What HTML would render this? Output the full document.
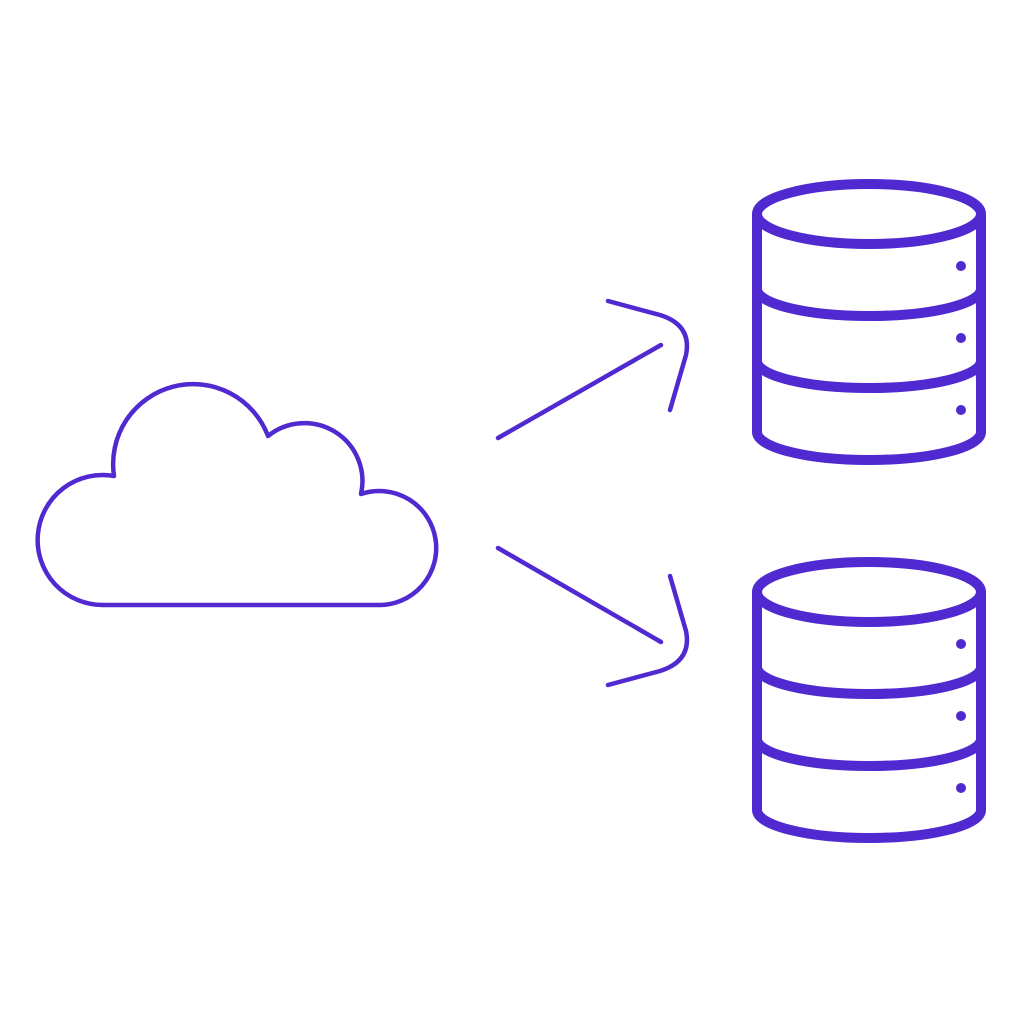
<!DOCTYPE html>
<html><head><style>html,body{margin:0;padding:0;background:#fff;}svg{display:block}</style></head>
<body>
<svg width="1024" height="1024" viewBox="0 0 1024 1024" xmlns="http://www.w3.org/2000/svg">
<g fill="none" stroke="#5029d0" stroke-linecap="round" stroke-linejoin="round">
<path stroke-width="4.5" d="M103 605 L378 605 A57 57 0 1 0 361 494 A58 58 0 0 0 268 436 A80 80 0 0 0 114 476 A65 65 0 1 0 103 605 Z"/>
<g stroke-width="4.5">
<line x1="498" y1="438" x2="661" y2="345"/>
<path d="M608 301 L660 315 Q692 325 686 355 L670 410"/>
<line x1="498" y1="548" x2="661" y2="642"/>
<path d="M608 685 L660 671 Q692 661 686 631 L670 576"/>
</g>
<g id="db" stroke-width="10">
<ellipse cx="869" cy="214" rx="112" ry="30"/>
<path d="M757 214 L757 432 A112 28 0 0 0 981 432 L981 214"/>
<path d="M757 289 A112 27 0 0 0 981 289"/>
<path d="M757 361 A112 27 0 0 0 981 361"/>
</g>
<use href="#db" transform="translate(0,378)"/>
</g>
<g fill="#5029d0">
<circle cx="961" cy="266" r="5"/><circle cx="961" cy="338" r="5"/><circle cx="961" cy="410" r="5"/>
<circle cx="961" cy="644" r="5"/><circle cx="961" cy="716" r="5"/><circle cx="961" cy="788" r="5"/>
</g>
</svg>
</body></html>
